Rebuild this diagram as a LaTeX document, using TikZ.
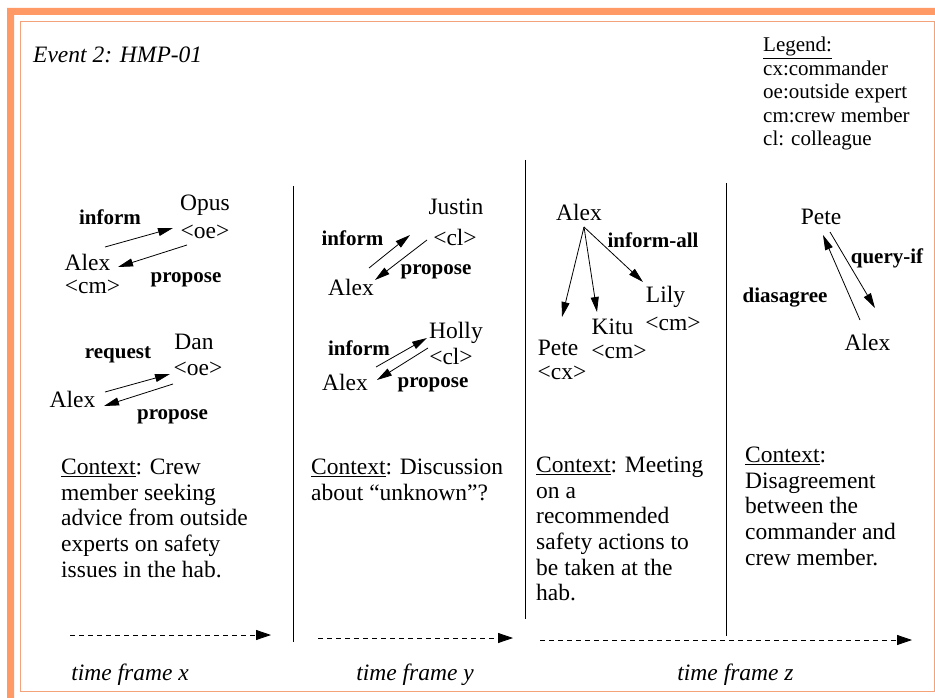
\documentclass[tikz,border=0pt]{standalone}
\usepackage{fontspec}
\setmainfont{Liberation Serif}
\usepackage{tikz}
\usetikzlibrary{arrows.meta}
\definecolor{bandorange}{HTML}{FF9966}
\definecolor{frameorange}{HTML}{F4A27A}
\tikzset{agent/.style={inner sep=0pt,font=\fontsize{23.5}{26}\selectfont}}
\tikzset{act/.style={inner sep=0pt,font=\bfseries\fontsize{21}{24}\selectfont}}
\tikzset{msg/.style={-{Triangle[length=15pt,width=8pt]},line width=0.8pt}}
\tikzset{ctx/.style={anchor=north west,align=left,inner sep=0pt,font=\fontsize{23.5}{25.6}\selectfont}}
\tikzset{tframe/.style={inner sep=0pt,font=\itshape\fontsize{23.5}{26}\selectfont}}
\tikzset{timeline/.style={-{Triangle[length=15pt,width=10pt]},line width=0.8pt,dash pattern=on 5pt off 4pt}}
\tikzset{divider/.style={line width=0.8pt}}

\begin{document}
\begin{tikzpicture}[x=1pt,y=-1pt]
    \useasboundingbox (0,0) rectangle (935,698);
    % frame
    \fill[bandorange] (7,8) -- (935,8) -- (935,15) -- (14,15) -- (14,698) -- (7,698) -- cycle;
    \draw[frameorange,line width=1.2pt] (20.7,21.3) rectangle (934.3,691.7);
    \node[tframe,anchor=west] (title) at (33,55) {Event 2: HMP-01};
    \node[anchor=north west,align=left,inner sep=0pt,font=\fontsize{21}{23.5}\selectfont] (legend) at (763,37)
        {\underline{Legend:}\\cx:commander\\oe:outside expert\\cm:crew member\\cl: colleague};

    % time frame x
    \node[agent] (opus) at (205,205) {Opus};
    \node[agent] (opusr) at (205,232) {<oe>};
    \node[agent] (alexa) at (87.5,262) {Alex};
    \node[agent] (alexar) at (92.5,287) {<cm>};
    \node[act] (infa) at (110,217) {inform};
    \node[act] (propa) at (186,280) {propose};
    \coordinate (a1) at (105,247); \coordinate (a2) at (173,228);
    \coordinate (a3) at (187,245); \coordinate (a4) at (118,267);
    \draw[msg] (a1) -- (a2);
    \draw[msg] (a3) -- (a4);
    \node[agent] (dan) at (194,342) {Dan};
    \node[agent] (danr) at (198,369) {<oe>};
    \node[agent] (alexb) at (72.5,399) {Alex};
    \node[act] (reqb) at (118,355) {request};
    \node[act] (propb) at (172.5,417) {propose};
    \coordinate (b1) at (105,392); \coordinate (b2) at (170,374);
    \coordinate (b3) at (173,384); \coordinate (b4) at (104,406);
    \draw[msg] (b1) -- (b2);
    \draw[msg] (b3) -- (b4);
    \node[ctx] (ctxx) at (61,459) {\underline{Context}: Crew\\member seeking\\advice from outside\\experts on safety\\issues in the hab.};

    % time frame y
    \node[agent] (justin) at (456,207) {Justin};
    \node[agent] (justinr) at (455,237) {<cl>};
    \node[agent] (alexc) at (351,287) {Alex};
    \node[act] (infc) at (352.5,238) {inform};
    \node[act] (propc) at (436,272) {propose};
    \coordinate (c1) at (369,268); \coordinate (c2) at (410,235);
    \coordinate (c3) at (427,240); \coordinate (c4) at (375,280);
    \draw[msg] (c1) -- (c2);
    \draw[msg] (c3) -- (c4);
    \node[agent] (holly) at (456,333) {Holly};
    \node[agent] (hollyr) at (451,356) {<cl>};
    \node[agent] (alexd) at (345,382) {Alex};
    \node[act] (infd) at (359,348) {inform};
    \node[act] (propd) at (433,385) {propose};
    \coordinate (d1) at (376,367); \coordinate (d2) at (427,338);
    \coordinate (d3) at (428,348); \coordinate (d4) at (377,380);
    \draw[msg] (d1) -- (d2);
    \draw[msg] (d3) -- (d4);
    \node[ctx] (ctxy) at (311,459) {\underline{Context}: Discussion\\about “unknown”?};

    % time frame z
    \node[agent] (alexe) at (579,212) {Alex};
    \node[act] (infe) at (653,240) {inform-all};
    \node[agent] (lily) at (665.5,297) {Lily};
    \node[agent] (lilyr) at (673,324) {<cm>};
    \node[agent] (kitu) at (612.5,327) {Kitu};
    \node[agent] (kitur) at (619,352) {<cm>};
    \node[agent] (pete) at (558,348) {Pete};
    \node[agent] (peter) at (562,373) {<cx>};
    \coordinate (fan) at (584,227);
    \coordinate (e1) at (562,317); \coordinate (e2) at (597,312); \coordinate (e3) at (643,282);
    \draw[msg] (fan) -- (e1);
    \draw[msg] (fan) -- (e2);
    \draw[msg] (fan) -- (e3);
    \node[ctx] (ctxz) at (536,457) {\underline{Context}: Meeting\\on a\\recommended\\safety actions to\\be taken at the\\hab.};

    \node[agent] (petef) at (821,217) {Pete};
    \node[agent] (alexf) at (867.5,342) {Alex};
    \node[act] (qryf) at (887,258) {query-if};
    \node[act] (disf) at (785,298) {diasagree};
    \coordinate (f1) at (830,232); \coordinate (f2) at (875,308);
    \coordinate (f3) at (860,320); \coordinate (f4) at (823,235);
    \draw[msg] (f1) -- (f2);
    \draw[msg] (f3) -- (f4);
    \node[ctx] (ctxw) at (745,447) {\underline{Context}:\\Disagreement\\between the\\commander and\\crew member.};

    % dividers and time lines
    \draw[divider] (293,186) -- (293,642);
    \draw[divider] (525,160) -- (525,619);
    \draw[divider] (726,183) -- (726,636);
    \draw[timeline] (70,635) -- (271,635);
    \draw[timeline] (318,638) -- (513,638);
    \draw[timeline] (540,640) -- (912,640);
    \node[tframe] (tfx) at (130,675) {time frame x};
    \node[tframe] (tfy) at (415,675) {time frame y};
    \node[tframe] (tfz) at (735.5,675) {time frame z};
\end{tikzpicture}
\end{document}
